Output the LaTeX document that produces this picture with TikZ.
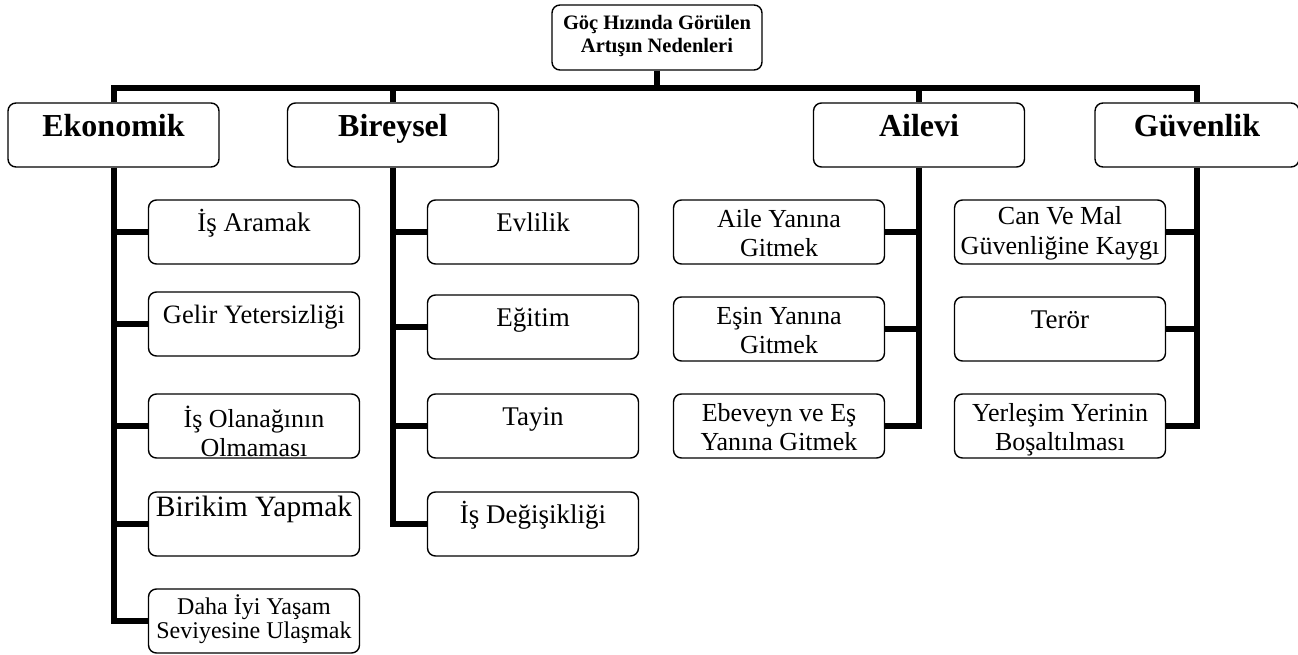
\documentclass[tikz,border=0pt]{standalone}
\usepackage{fontspec}
\setmainfont{Liberation Serif}
\newcommand{\mytwo}[2]{\parbox[t]{206pt}{\centering #1\\#2}}
\tikzset{
  box/.style={draw, line width=1.4pt, rounded corners=8pt, minimum width=211pt,
    minimum height=64pt, inner sep=0pt},
  rootbox/.style={box, minimum width=210pt, minimum height=65pt, text height=25pt,
    text depth=40pt, font=\bfseries\fontsize{20.5pt}{23pt}\selectfont},
  catbox/.style={box, text height=34pt, text depth=30pt,
    font=\bfseries\fontsize{32pt}{36pt}\selectfont},
  onebox/.style={box, text height=31pt, text depth=33pt,
    font=\fontsize{27pt}{30pt}\selectfont},
  twobox/.style={box, text height=27pt, text depth=37pt,
    font=\fontsize{26pt}{29pt}\selectfont},
  conn/.style={line width=6pt, line join=miter},
}
\begin{document}
\begin{tikzpicture}[x=1pt,y=-1pt]
\useasboundingbox (0,0) rectangle (1298,655);

% root
\node[rootbox] (root) at (657,37.5) {\mytwo{Göç Hızında Görülen}{Artışın Nedenleri}};

% categories
\node[catbox] (eko) at (113.5,135) {Ekonomik};
\node[catbox] (bir) at (393,135) {Bireysel};
\node[catbox] (ail) at (919,135) {Ailevi};
\node[catbox, minimum width=204pt] (guv) at (1197,135) {Güvenlik};

% Ekonomik
\node[onebox] (e1) at (254,232) {İş Aramak};
\node[onebox, font=\fontsize{26.5pt}{29pt}\selectfont] (e2) at (254,324) {Gelir Yetersizliği};
\node[twobox, text height=33pt, text depth=31pt] (e3) at (254,426) {\mytwo{İş Olanağının}{Olmaması}};
\node[onebox, text height=24pt, text depth=40pt, font=\fontsize{29.5pt}{31pt}\selectfont] (e4) at (254,524) {Birikim Yapmak};
\node[twobox, text height=25pt, text depth=39pt, font=\fontsize{24pt}{24pt}\selectfont] (e5) at (254,621) {\mytwo{Daha İyi Yaşam}{Seviyesine Ulaşmak}};

% Bireysel
\node[onebox] (b1) at (533,232) {Evlilik};
\node[onebox] (b2) at (533,327) {Eğitim};
\node[onebox] (b3) at (533,426) {Tayin};
\node[onebox] (b4) at (533,524) {İş Değişikliği};

% Ailevi
\node[twobox] (a1) at (779,232) {\mytwo{Aile Yanına}{Gitmek}};
\node[twobox] (a2) at (779,329) {\mytwo{Eşin Yanına}{Gitmek}};
\node[twobox] (a3) at (779,426) {\mytwo{Ebeveyn ve Eş}{Yanına Gitmek}};

% Guvenlik
\node[twobox, text height=25pt, text depth=39pt] (g1) at (1060,232) {\mytwo{Can Ve Mal}{Güvenliğine Kaygı}};
\node[onebox] (g2) at (1060,329) {Terör};
\node[twobox] (g3) at (1060,426) {\mytwo{Yerleşim Yerinin}{Boşaltılması}};

% connectors
\coordinate (bus) at (657,88);
\draw[conn] (root.south) -- (bus);
\draw[conn] (eko.north) |- (bus) -| (guv.north);
\draw[conn] (bir.north) -- (bir.north |- bus);
\draw[conn] (ail.north) -- (ail.north |- bus);

\draw[conn] (eko.south) |- (e5.west);
\foreach \n in {e1,e2,e3,e4} \draw[conn] (eko.south |- \n.west) -- (\n.west);

\draw[conn] (bir.south) |- (b4.west);
\foreach \n in {b1,b2,b3} \draw[conn] (bir.south |- \n.west) -- (\n.west);

\draw[conn] (ail.south) |- (a3.east);
\foreach \n in {a1,a2} \draw[conn] (ail.south |- \n.east) -- (\n.east);

\draw[conn] (guv.south) |- (g3.east);
\foreach \n in {g1,g2} \draw[conn] (guv.south |- \n.east) -- (\n.east);
\end{tikzpicture}
\end{document}
